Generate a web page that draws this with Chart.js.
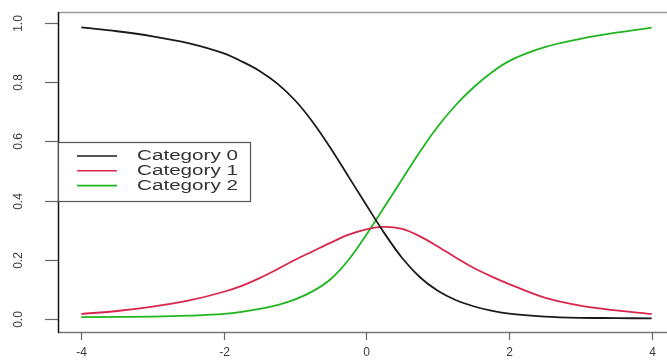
<!DOCTYPE html>
<html>
<head>
<meta charset="utf-8">
<script src="https://cdn.jsdelivr.net/npm/chart.js@4.4.1/dist/chart.umd.min.js"></script>
<style>
  html, body { margin: 0; padding: 0; background: #ffffff; }
  canvas { display: block; }
</style>
</head>
<body>
<canvas id="chart" width="667" height="360"></canvas>
<script>
// Predicted probabilities for each category along x
const xValues = [-4, -3.5, -3, -2.5, -2, -1.75, -1.5, -1.25, -1, -0.75, -0.5, -0.25, 0, 0.25, 0.5, 0.75, 1, 1.25, 1.5, 1.75, 2, 2.5, 3, 3.5, 4];
const category0 = [0.985, 0.972, 0.955, 0.932, 0.897, 0.870, 0.838, 0.795, 0.738, 0.664, 0.576, 0.480, 0.384, 0.290, 0.206, 0.141, 0.095, 0.064, 0.043, 0.028, 0.018, 0.008, 0.004, 0.003, 0.002];
const category1 = [0.017, 0.027, 0.042, 0.062, 0.092, 0.112, 0.138, 0.168, 0.200, 0.229, 0.258, 0.285, 0.303, 0.311, 0.304, 0.279, 0.245, 0.208, 0.173, 0.144, 0.118, 0.072, 0.045, 0.029, 0.017];
const category2 = [0.006, 0.007, 0.008, 0.011, 0.017, 0.024, 0.034, 0.047, 0.066, 0.094, 0.135, 0.200, 0.285, 0.378, 0.472, 0.565, 0.650, 0.722, 0.782, 0.832, 0.871, 0.918, 0.946, 0.967, 0.984];

const seriesNames = ['Category 0', 'Category 1', 'Category 2'];
const seriesColors = ['#1a1a1a', '#d8264c', '#1fb51f'];

const xTicks = [-4, -2, 0, 2, 4];
const xTickLabels = ['-4', '-2', '0', '2', '4'];
const yTicks = [0, 0.2, 0.4, 0.6, 0.8, 1.0];
const yTickLabels = ['0.0', '0.2', '0.4', '0.6', '0.8', '1.0'];

const toPoints = ys => xValues.map((x, i) => ({ x: x, y: ys[i] }));

// Box, axes, rotated y labels and the legend panel
const framePlugin = {
  id: 'frame',
  afterDatasetsDraw(chart) {
    const ctx = chart.ctx;
    const area = chart.chartArea;
    const xs = chart.scales.x;
    const ys = chart.scales.y;
    const W = chart.width;
    ctx.save();

    // plot box (right side runs past the canvas edge)
    ctx.lineWidth = 1.5;
    ctx.strokeStyle = '#9a9a9a';
    ctx.beginPath();
    ctx.moveTo(area.left, area.top + 0.5);
    ctx.lineTo(W, area.top + 0.5);
    ctx.stroke();
    ctx.strokeStyle = '#777777';
    ctx.beginPath();
    ctx.moveTo(area.left, area.bottom + 0.5);
    ctx.lineTo(W, area.bottom + 0.5);
    ctx.stroke();
    ctx.strokeStyle = '#111111';
    ctx.beginPath();
    ctx.moveTo(area.left + 0.5, area.top);
    ctx.lineTo(area.left + 0.5, area.bottom + 1);
    ctx.stroke();

    // y ticks with rotated labels
    ctx.font = '12px "Liberation Sans", Arial, sans-serif';
    ctx.fillStyle = '#3a3a3a';
    ctx.strokeStyle = '#666666';
    ctx.lineWidth = 1.2;
    yTicks.forEach((v, i) => {
      const py = Math.round(ys.getPixelForValue(v)) + 0.5;
      ctx.beginPath();
      ctx.moveTo(area.left - 13, py);
      ctx.lineTo(area.left, py);
      ctx.stroke();
      ctx.save();
      ctx.translate(19, py);
      ctx.rotate(-Math.PI / 2);
      ctx.textAlign = 'center';
      ctx.textBaseline = 'middle';
      ctx.fillText(yTickLabels[i], 0, 0);
      ctx.restore();
    });

    // x ticks and labels
    xTicks.forEach((v, i) => {
      const px = Math.round(xs.getPixelForValue(v)) + 0.5;
      ctx.beginPath();
      ctx.moveTo(px, area.bottom);
      ctx.lineTo(px, area.bottom + 8);
      ctx.stroke();
      ctx.textAlign = 'center';
      ctx.textBaseline = 'middle';
      ctx.fillText(xTickLabels[i], px, 353);
    });

    // legend panel
    const lx = area.left, ly = 142, lw = 192, lh = 59;
    ctx.fillStyle = '#ffffff';
    ctx.fillRect(lx, ly, lw, lh);
    ctx.strokeStyle = '#555555';
    ctx.lineWidth = 1.2;
    ctx.strokeRect(lx + 0.5, ly + 0.5, lw, lh);

    ctx.font = '14px "Liberation Sans", Arial, sans-serif';
    const stretch = 101 / ctx.measureText(seriesNames[0]).width;
    seriesNames.forEach((name, i) => {
      const ry = 156 + i * 14.8;
      ctx.strokeStyle = seriesColors[i];
      ctx.lineWidth = 1.6;
      ctx.beginPath();
      ctx.moveTo(77, ry);
      ctx.lineTo(117, ry);
      ctx.stroke();
      ctx.save();
      ctx.translate(137, ry + 0.5);
      ctx.scale(stretch, 1);
      ctx.fillStyle = '#333333';
      ctx.textAlign = 'left';
      ctx.textBaseline = 'middle';
      ctx.fillText(name, 0, 0);
      ctx.restore();
    });

    ctx.restore();
  }
};

new Chart(document.getElementById('chart'), {
  type: 'line',
  data: {
    datasets: [category0, category1, category2].map((ys, i) => ({
      label: seriesNames[i],
      data: toPoints(ys),
      borderColor: seriesColors[i],
      borderWidth: 1.8,
      pointRadius: 0,
      fill: false,
      cubicInterpolationMode: 'monotone'
    }))
  },
  options: {
    responsive: false,
    devicePixelRatio: 1,
    animation: false,
    layout: { padding: { left: 58, top: 12, right: 0, bottom: 28 } },
    plugins: { legend: { display: false }, tooltip: { enabled: false } },
    scales: {
      x: { type: 'linear', min: -4.327, max: 4.215, display: false },
      y: { type: 'linear', min: -0.044, max: 1.037, display: false }
    }
  },
  plugins: [framePlugin]
});
</script>
</body>
</html>
